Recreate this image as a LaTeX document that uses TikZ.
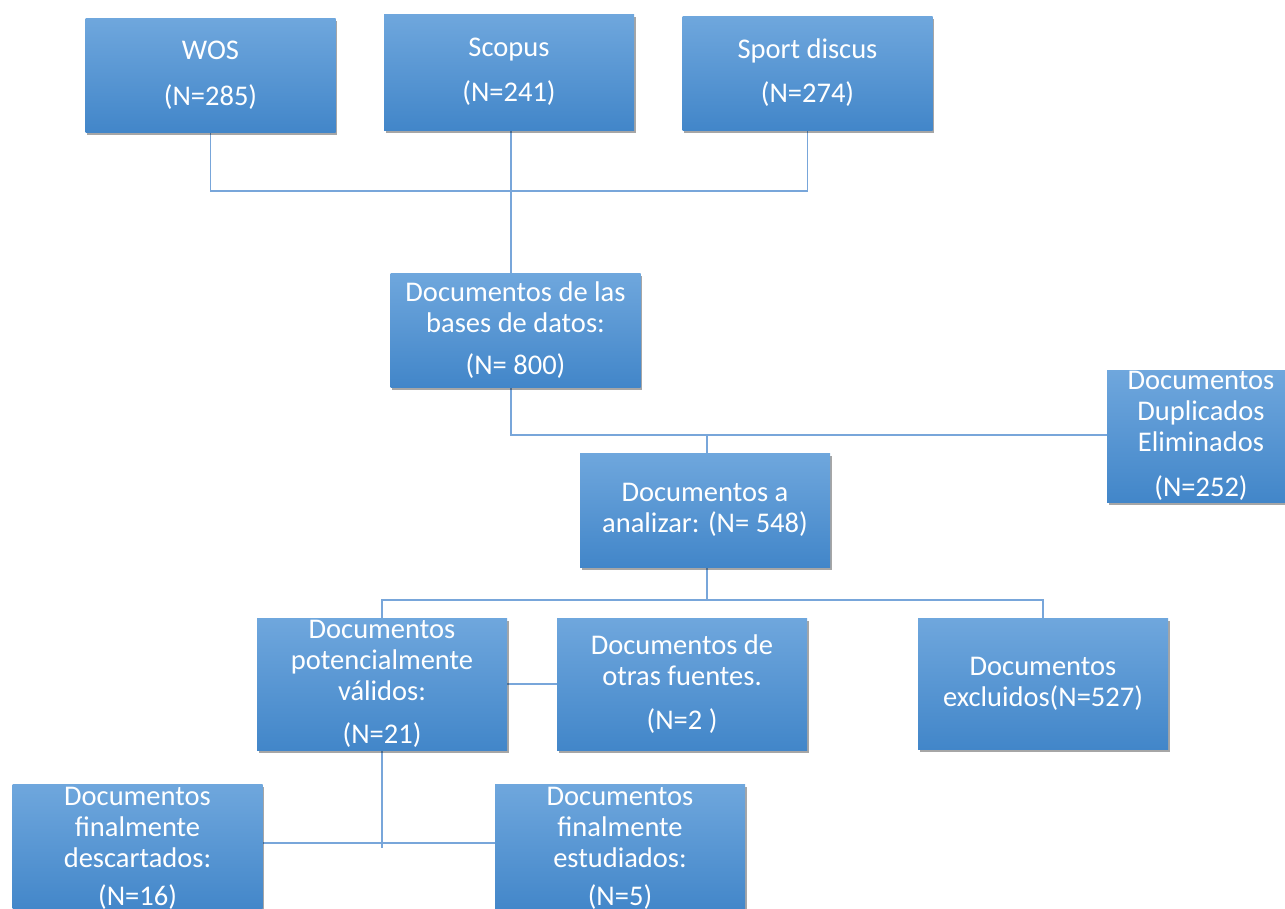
\documentclass[tikz,border=0pt]{standalone}
\usepackage{fontspec}
\setmainfont{Carlito}
\usetikzlibrary{shadows,backgrounds}
\definecolor{boxtop}{RGB}{111,167,221}
\definecolor{boxmid}{RGB}{84,152,218}
\definecolor{boxbot}{RGB}{66,134,201}
\definecolor{linec}{RGB}{120,166,218}
\begin{document}
\begin{tikzpicture}[x=1pt,y=-1pt,
  box/.style={rectangle, minimum width=250pt, top color=boxtop, middle color=boxmid, bottom color=boxbot,
    draw=none, text=white, align=center, inner sep=0pt,
    font=\fontsize{28.5}{31}\selectfont,
    drop shadow={shadow xshift=1.5pt, shadow yshift=-2.5pt, opacity=0.35, fill=black}},
  conn/.style={draw=linec, line width=1.3pt}]
\useasboundingbox (0,0) rectangle (1285,908);

\node[box, minimum height=114pt] (wos) at (210.5,75) {WOS\\[15pt](N=285)};
\node[box, minimum height=116pt] (scopus) at (509,72) {Scopus\\[14pt](N=241)};
\node[box, minimum height=114pt] (sport) at (807.5,73) {Sport discus\\[13pt](N=274)};
\node[box, minimum height=114pt] (bases) at (515.5,330) {Documentos de las\\bases de datos:\\[11pt](N= 800)};
\node[box, minimum height=132pt, minimum width=188pt] (dup) at (1201,436) {Documentos\\Duplicados\\Eliminados\\[14pt](N=252)};
\node[box, minimum height=114pt] (analizar) at (705,510) {Documentos a\\analizar: (N= 548)};
\node[box, minimum height=132pt] (potencial) at (382,684) {Documentos\\potencialmente\\válidos:\\[12pt](N=21)};
\node[box, minimum height=132pt] (otras) at (682,684) {Documentos de\\otras fuentes.\\[13pt](N=2 )};
\node[box, minimum height=131pt] (excluidos) at (1043,683.5) {Documentos\\excluidos(N=527)};
\node[box, minimum height=128pt] (descartados) at (137.5,848) {Documentos\\finalmente\\descartados:\\[7pt](N=16)};
\node[box, minimum height=128pt] (estudiados) at (620,848) {Documentos\\finalmente\\estudiados:\\[7pt](N=5)};

\coordinate (j1) at (511,191);
\coordinate (j2) at (511,435);
\coordinate (j3) at (707,600);
\coordinate (j4) at (382,843);
\coordinate (j4end) at (382,848);

\begin{scope}[on background layer]
\fill[white] (0,0) rectangle (1285,908);
\draw[conn] (wos.south) -- (wos.south |- j1) -- (sport.south |- j1) -- (sport.south);
\draw[conn] (scopus.south -| j1) -- (bases.north -| j1);
\draw[conn] (bases.south -| j2) -- (j2) -- (j2 -| dup.west);
\draw[conn] (j2 -| j3) -- (analizar.north -| j3);
\draw[conn] (analizar.south -| j3) -- (j3);
\draw[conn] (potencial.north) -- (potencial.north |- j3) -- (excluidos.north |- j3) -- (excluidos.north);
\draw[conn] (potencial.east) -- (otras.west);
\draw[conn] (potencial.south) -- (j4end);
\draw[conn] (descartados.east |- j4) -- (estudiados.west |- j4);
\end{scope}
\end{tikzpicture}
\end{document}
